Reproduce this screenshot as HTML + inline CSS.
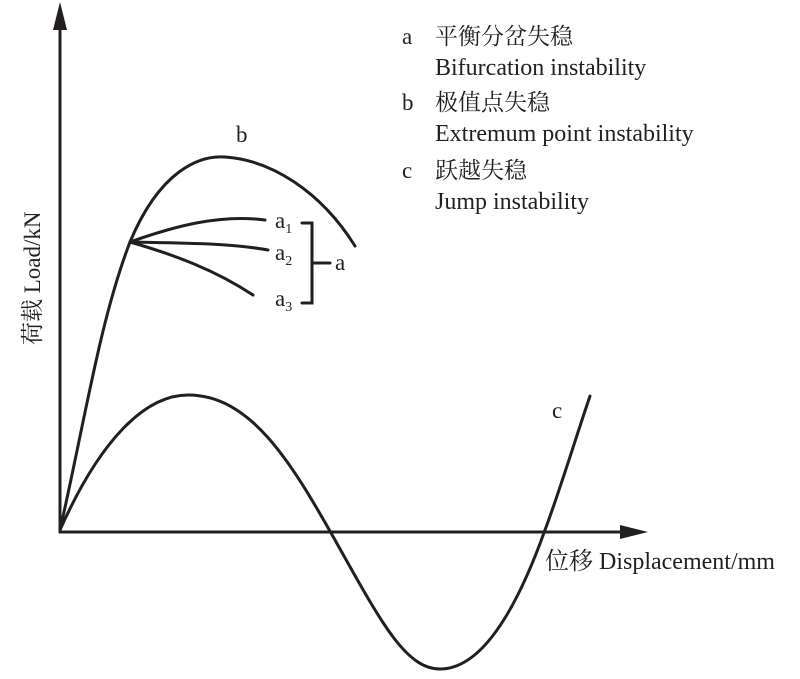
<!DOCTYPE html>
<html><head><meta charset="utf-8"><style>
body{margin:0;background:#fff;}
svg text{font-family:"Liberation Serif","Noto Serif CJK SC",serif;fill:#231f20;}
</style></head><body>
<svg width="800" height="674" viewBox="0 0 800 674" xmlns="http://www.w3.org/2000/svg">
<g stroke="#231f20" stroke-width="3" fill="none" stroke-linecap="round">
<line x1="60" y1="532" x2="60" y2="28"/>
<line x1="60" y1="532" x2="622" y2="532"/>
<path d="M60 530 C85 420 100 320 130 242 C160 170 200 155 225 157 C270 160 320 190 355 246"/>
<path d="M130 242 C175 226 220 214 265 220"/>
<path d="M130 242 C180 243 230 243 268 250"/>
<path d="M130 242 C175 255 215 270 253 295"/>
<path d="M60 530 C100 440 145 395 188 395 C250 395 290 460 335 540 C380 620 405 669 440 669 C485 669 520 600 545 530 C560 490 575 440 590 396"/>
<path d="M302 223 H312 V303 H302 M312 263 H330"/>
</g>
<polygon points="60,2 53,30 67,30" fill="#231f20"/>
<polygon points="648,532 620,525 620,539" fill="#231f20"/>
<g font-size="23">
<text x="236" y="142">b</text>
<text x="275" y="228">a<tspan font-size="14" dy="5">1</tspan></text>
<text x="275" y="260">a<tspan font-size="14" dy="5">2</tspan></text>
<text x="275" y="306">a<tspan font-size="14" dy="5">3</tspan></text>
<text x="335" y="270">a</text>
<text x="552" y="418">c</text>
<text x="402" y="44">a</text><text x="435" y="44">平衡分岔失稳</text>
<text x="435" y="75" font-size="24">Bifurcation instability</text>
<text x="402" y="110">b</text><text x="435" y="110">极值点失稳</text>
<text x="435" y="141" font-size="24">Extremum point instability</text>
<text x="402" y="178">c</text><text x="435" y="178">跃越失稳</text>
<text x="435" y="209" font-size="24">Jump instability</text>
<text x="545" y="569" font-size="24">位移 Displacement/mm</text>
<text transform="translate(40,345) rotate(-90)">荷载 Load/kN</text>
</g>
</svg>
</body></html>
